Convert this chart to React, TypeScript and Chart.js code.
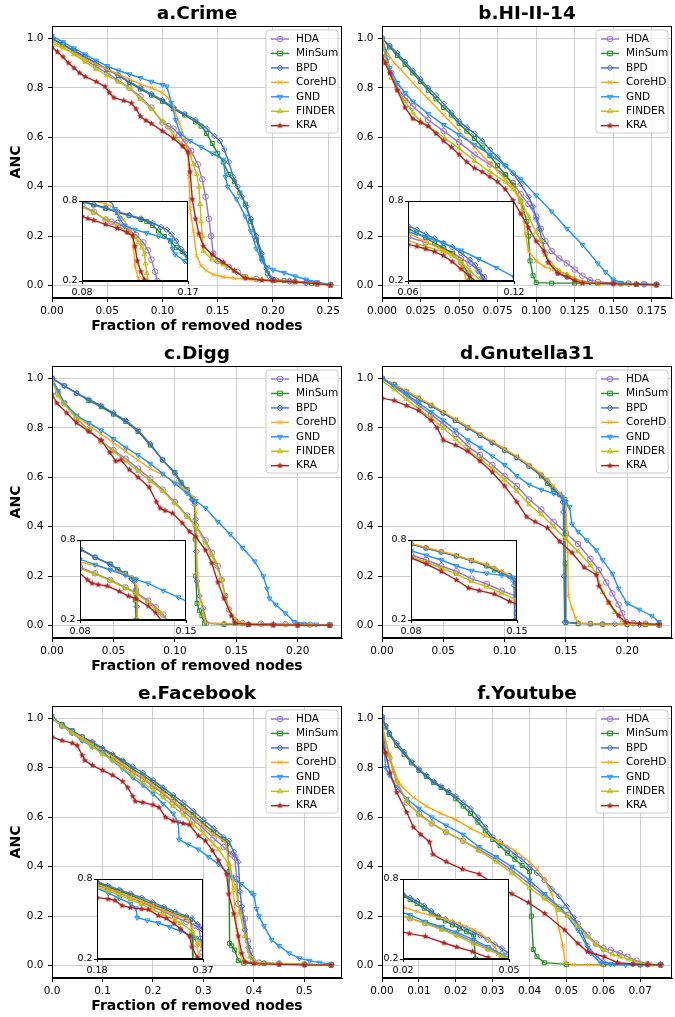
import React, { useEffect, useRef } from 'react';
import { Chart, registerables } from 'chart.js';
Chart.register(...registerables);

type Pt = [number, number];

const METHODS = ['HDA', 'MinSum', 'BPD', 'CoreHD', 'GND', 'FINDER', 'KRA'];

// ---------- a.Crime ----------
const crimeHDA: Pt[] = [[0,1.0],[0.01,0.975],[0.02,0.945],[0.03,0.915],[0.04,0.885],[0.05,0.86],[0.06,0.83],[0.07,0.8],[0.08,0.765],[0.09,0.72],[0.1,0.66],[0.105,0.645],[0.11,0.635],[0.115,0.61],[0.12,0.58],[0.126,0.545],[0.132,0.49],[0.136,0.43],[0.139,0.36],[0.142,0.27],[0.144,0.2],[0.146,0.13],[0.15,0.1],[0.16,0.075],[0.168,0.055],[0.175,0.035],[0.185,0.027],[0.2,0.022],[0.215,0.018],[0.23,0.012],[0.24,0.008],[0.252,0.003]];
const crimeMinSum: Pt[] = [[0,1.0],[0.01,0.975],[0.02,0.95],[0.03,0.925],[0.04,0.9],[0.05,0.875],[0.06,0.85],[0.07,0.822],[0.08,0.795],[0.09,0.77],[0.1,0.745],[0.11,0.715],[0.12,0.69],[0.13,0.662],[0.135,0.645],[0.14,0.615],[0.145,0.575],[0.15,0.535],[0.155,0.5],[0.16,0.45],[0.165,0.42],[0.17,0.375],[0.175,0.33],[0.18,0.26],[0.185,0.185],[0.19,0.11],[0.195,0.05],[0.2,0.025],[0.21,0.02],[0.22,0.016],[0.235,0.01],[0.252,0.003]];
const crimeBPD: Pt[] = [[0,1.0],[0.01,0.975],[0.02,0.95],[0.03,0.925],[0.04,0.9],[0.05,0.875],[0.06,0.85],[0.07,0.825],[0.08,0.8],[0.09,0.775],[0.1,0.75],[0.11,0.72],[0.12,0.695],[0.13,0.67],[0.14,0.635],[0.147,0.605],[0.152,0.585],[0.156,0.55],[0.16,0.5],[0.164,0.44],[0.168,0.4],[0.172,0.36],[0.176,0.32],[0.18,0.27],[0.185,0.2],[0.19,0.13],[0.194,0.07],[0.197,0.035],[0.203,0.022],[0.215,0.017],[0.23,0.012],[0.252,0.003]];
const crimeCoreHD: Pt[] = [[0,0.98],[0.01,0.96],[0.02,0.94],[0.03,0.915],[0.04,0.895],[0.05,0.875],[0.06,0.855],[0.07,0.835],[0.08,0.815],[0.09,0.8],[0.1,0.78],[0.105,0.76],[0.11,0.72],[0.115,0.66],[0.12,0.6],[0.123,0.54],[0.124,0.44],[0.125,0.31],[0.128,0.22],[0.131,0.12],[0.135,0.08],[0.14,0.06],[0.146,0.045],[0.155,0.035],[0.165,0.03],[0.18,0.025],[0.2,0.02],[0.22,0.015],[0.24,0.008],[0.252,0.003]];
const crimeGND: Pt[] = [[0,1.01],[0.01,0.985],[0.02,0.96],[0.03,0.935],[0.04,0.91],[0.05,0.888],[0.06,0.87],[0.07,0.855],[0.08,0.84],[0.09,0.825],[0.1,0.812],[0.104,0.806],[0.108,0.74],[0.112,0.67],[0.116,0.615],[0.125,0.585],[0.135,0.56],[0.145,0.535],[0.155,0.51],[0.157,0.44],[0.159,0.4],[0.167,0.35],[0.175,0.28],[0.18,0.22],[0.185,0.15],[0.19,0.1],[0.195,0.075],[0.2,0.065],[0.21,0.052],[0.22,0.038],[0.23,0.025],[0.24,0.014],[0.252,0.005]];
const crimeFINDER: Pt[] = [[0,0.99],[0.01,0.965],[0.02,0.935],[0.03,0.905],[0.04,0.875],[0.05,0.85],[0.06,0.825],[0.07,0.8],[0.08,0.755],[0.09,0.715],[0.1,0.665],[0.11,0.61],[0.12,0.56],[0.125,0.53],[0.128,0.49],[0.131,0.45],[0.133,0.4],[0.134,0.33],[0.135,0.26],[0.136,0.2],[0.137,0.14],[0.145,0.105],[0.155,0.085],[0.165,0.06],[0.175,0.035],[0.19,0.025],[0.205,0.02],[0.22,0.015],[0.24,0.008],[0.252,0.003]];
const crimeKRA: Pt[] = [[0,0.965],[0.005,0.945],[0.01,0.925],[0.015,0.9],[0.02,0.88],[0.025,0.86],[0.03,0.845],[0.04,0.825],[0.048,0.805],[0.052,0.78],[0.056,0.76],[0.065,0.748],[0.072,0.738],[0.076,0.715],[0.08,0.685],[0.085,0.668],[0.09,0.655],[0.1,0.625],[0.11,0.595],[0.118,0.565],[0.123,0.54],[0.125,0.46],[0.127,0.35],[0.13,0.27],[0.133,0.21],[0.137,0.16],[0.145,0.125],[0.155,0.095],[0.165,0.06],[0.175,0.03],[0.19,0.022],[0.2,0.02],[0.22,0.015],[0.24,0.008],[0.252,0.002]];

// ---------- b.HI-II-14 ----------
const hiHDA: Pt[] = [[0,1.0],[0.003,0.92],[0.006,0.86],[0.01,0.8],[0.015,0.76],[0.02,0.725],[0.03,0.67],[0.04,0.625],[0.05,0.58],[0.06,0.53],[0.07,0.49],[0.08,0.445],[0.085,0.415],[0.09,0.37],[0.095,0.33],[0.1,0.28],[0.103,0.23],[0.106,0.18],[0.11,0.14],[0.115,0.11],[0.12,0.09],[0.125,0.065],[0.13,0.04],[0.135,0.022],[0.14,0.015],[0.15,0.011],[0.16,0.009],[0.17,0.006],[0.178,0.004]];
const hiMinSum: Pt[] = [[0,1.0],[0.005,0.965],[0.01,0.93],[0.015,0.895],[0.02,0.86],[0.025,0.825],[0.03,0.79],[0.035,0.755],[0.04,0.72],[0.045,0.69],[0.05,0.655],[0.055,0.625],[0.06,0.595],[0.065,0.56],[0.07,0.525],[0.075,0.485],[0.08,0.45],[0.085,0.405],[0.09,0.34],[0.094,0.26],[0.095,0.2],[0.096,0.1],[0.098,0.04],[0.1,0.012],[0.11,0.01],[0.125,0.01],[0.14,0.009],[0.155,0.007],[0.165,0.006],[0.178,0.004]];
const hiBPD: Pt[] = [[0,1.0],[0.005,0.97],[0.01,0.94],[0.015,0.905],[0.02,0.87],[0.025,0.835],[0.03,0.8],[0.035,0.77],[0.04,0.735],[0.045,0.7],[0.05,0.665],[0.055,0.64],[0.06,0.615],[0.065,0.585],[0.07,0.55],[0.075,0.52],[0.08,0.485],[0.085,0.455],[0.09,0.41],[0.095,0.36],[0.098,0.32],[0.1,0.27],[0.102,0.23],[0.104,0.18],[0.106,0.13],[0.108,0.095],[0.114,0.05],[0.12,0.035],[0.125,0.025],[0.135,0.013],[0.15,0.01],[0.165,0.007],[0.178,0.004]];
const hiCoreHD: Pt[] = [[0,1.0],[0.003,0.945],[0.008,0.9],[0.012,0.875],[0.02,0.82],[0.03,0.755],[0.04,0.69],[0.05,0.625],[0.06,0.56],[0.07,0.495],[0.08,0.43],[0.085,0.4],[0.089,0.36],[0.091,0.3],[0.093,0.21],[0.095,0.14],[0.1,0.1],[0.105,0.078],[0.11,0.065],[0.115,0.057],[0.12,0.045],[0.125,0.03],[0.13,0.015],[0.14,0.01],[0.155,0.008],[0.165,0.006],[0.178,0.004]];
const hiGND: Pt[] = [[0,1.0],[0.002,0.95],[0.005,0.88],[0.01,0.82],[0.015,0.78],[0.02,0.745],[0.03,0.695],[0.04,0.65],[0.05,0.61],[0.06,0.57],[0.07,0.53],[0.08,0.485],[0.09,0.43],[0.1,0.365],[0.11,0.3],[0.12,0.23],[0.13,0.165],[0.14,0.09],[0.145,0.055],[0.15,0.025],[0.155,0.012],[0.16,0.008],[0.17,0.005],[0.178,0.003]];
const hiFINDER: Pt[] = [[0,1.0],[0.003,0.9],[0.006,0.84],[0.01,0.79],[0.015,0.745],[0.02,0.7],[0.025,0.665],[0.03,0.645],[0.04,0.6],[0.05,0.555],[0.06,0.505],[0.07,0.46],[0.08,0.42],[0.085,0.39],[0.09,0.345],[0.095,0.28],[0.1,0.215],[0.103,0.185],[0.106,0.125],[0.11,0.085],[0.115,0.06],[0.12,0.045],[0.125,0.025],[0.13,0.012],[0.14,0.008],[0.16,0.006],[0.178,0.003]];
const hiKRA: Pt[] = [[0,0.93],[0.002,0.9],[0.005,0.86],[0.01,0.79],[0.015,0.72],[0.02,0.675],[0.025,0.66],[0.03,0.645],[0.035,0.615],[0.04,0.585],[0.045,0.56],[0.05,0.53],[0.055,0.5],[0.06,0.475],[0.065,0.46],[0.07,0.44],[0.075,0.42],[0.08,0.39],[0.085,0.345],[0.09,0.29],[0.095,0.235],[0.1,0.18],[0.105,0.14],[0.108,0.095],[0.114,0.05],[0.12,0.035],[0.125,0.02],[0.13,0.01],[0.15,0.007],[0.165,0.005],[0.178,0.003]];

// ---------- c.Digg ----------
const diggHDA: Pt[] = [[0,1.0],[0.005,0.94],[0.01,0.9],[0.02,0.84],[0.03,0.79],[0.04,0.745],[0.05,0.71],[0.06,0.675],[0.07,0.635],[0.08,0.595],[0.09,0.55],[0.1,0.5],[0.11,0.445],[0.117,0.405],[0.125,0.345],[0.13,0.295],[0.135,0.24],[0.138,0.185],[0.141,0.12],[0.144,0.065],[0.149,0.02],[0.155,0.01],[0.17,0.008],[0.19,0.006],[0.21,0.004],[0.226,0.003]];
const diggMinSum: Pt[] = [[0,1.0],[0.01,0.97],[0.02,0.94],[0.03,0.91],[0.04,0.885],[0.05,0.855],[0.06,0.825],[0.07,0.785],[0.08,0.73],[0.09,0.67],[0.1,0.62],[0.105,0.58],[0.11,0.55],[0.114,0.515],[0.116,0.5],[0.1165,0.35],[0.117,0.2],[0.118,0.09],[0.12,0.06],[0.122,0.04],[0.124,0.01],[0.14,0.005],[0.16,0.004],[0.18,0.003],[0.2,0.002],[0.226,0.001]];
const diggBPD: Pt[] = [[0,1.0],[0.01,0.97],[0.02,0.94],[0.03,0.915],[0.04,0.89],[0.05,0.86],[0.06,0.83],[0.07,0.79],[0.08,0.735],[0.09,0.67],[0.1,0.615],[0.105,0.575],[0.11,0.545],[0.114,0.51],[0.116,0.49],[0.117,0.43],[0.1175,0.3],[0.118,0.18],[0.12,0.12],[0.123,0.07],[0.126,0.01],[0.14,0.008],[0.16,0.006],[0.18,0.005],[0.2,0.003],[0.226,0.002]];
const diggCoreHD: Pt[] = [[0,1.0],[0.005,0.95],[0.01,0.9],[0.02,0.85],[0.03,0.81],[0.04,0.775],[0.05,0.74],[0.06,0.705],[0.07,0.67],[0.08,0.635],[0.09,0.61],[0.1,0.58],[0.11,0.545],[0.116,0.515],[0.117,0.46],[0.1175,0.35],[0.118,0.21],[0.121,0.1],[0.1235,0.04],[0.125,0.01],[0.14,0.008],[0.16,0.006],[0.18,0.004],[0.2,0.003],[0.226,0.002]];
const diggGND: Pt[] = [[0,1.0],[0.005,0.95],[0.01,0.9],[0.02,0.85],[0.03,0.82],[0.04,0.79],[0.05,0.755],[0.06,0.72],[0.07,0.69],[0.08,0.655],[0.09,0.615],[0.1,0.575],[0.11,0.535],[0.117,0.505],[0.125,0.475],[0.135,0.42],[0.145,0.37],[0.155,0.315],[0.165,0.26],[0.172,0.2],[0.175,0.15],[0.177,0.11],[0.182,0.085],[0.19,0.05],[0.197,0.015],[0.205,0.008],[0.215,0.005],[0.226,0.004]];
const diggFINDER: Pt[] = [[0,0.99],[0.005,0.93],[0.01,0.895],[0.02,0.84],[0.03,0.79],[0.04,0.745],[0.05,0.705],[0.06,0.665],[0.07,0.625],[0.08,0.585],[0.09,0.545],[0.1,0.495],[0.11,0.44],[0.117,0.4],[0.125,0.335],[0.13,0.285],[0.133,0.253],[0.138,0.186],[0.141,0.118],[0.144,0.065],[0.149,0.024],[0.155,0.008],[0.17,0.005],[0.19,0.004],[0.21,0.003],[0.226,0.002]];
const diggKRA: Pt[] = [[0,0.935],[0.004,0.9],[0.012,0.86],[0.02,0.82],[0.03,0.785],[0.04,0.75],[0.047,0.7],[0.052,0.665],[0.056,0.67],[0.063,0.63],[0.07,0.6],[0.079,0.56],[0.085,0.5],[0.088,0.475],[0.092,0.465],[0.098,0.455],[0.106,0.415],[0.112,0.38],[0.117,0.36],[0.125,0.305],[0.13,0.253],[0.135,0.175],[0.14,0.11],[0.146,0.04],[0.149,0.01],[0.16,0.005],[0.18,0.003],[0.2,0.002],[0.226,0.001]];

// ---------- d.Gnutella31 ----------
const gnuHDA: Pt[] = [[0,1.0],[0.01,0.965],[0.02,0.93],[0.03,0.89],[0.04,0.855],[0.05,0.815],[0.06,0.775],[0.07,0.725],[0.08,0.69],[0.09,0.65],[0.1,0.605],[0.11,0.565],[0.12,0.51],[0.13,0.47],[0.14,0.42],[0.15,0.375],[0.16,0.33],[0.17,0.27],[0.177,0.225],[0.183,0.175],[0.188,0.13],[0.193,0.085],[0.196,0.05],[0.199,0.015],[0.205,0.01],[0.215,0.008],[0.226,0.005]];
const gnuMinSum: Pt[] = [[0,1.0],[0.01,0.975],[0.02,0.945],[0.03,0.92],[0.04,0.89],[0.05,0.86],[0.06,0.83],[0.07,0.8],[0.08,0.77],[0.09,0.74],[0.1,0.71],[0.11,0.68],[0.12,0.645],[0.13,0.605],[0.135,0.575],[0.14,0.55],[0.145,0.53],[0.149,0.51],[0.1495,0.25],[0.15,0.012],[0.16,0.008],[0.17,0.007],[0.18,0.006],[0.2,0.005],[0.215,0.004],[0.226,0.003]];
const gnuBPD: Pt[] = [[0,1.0],[0.01,0.975],[0.02,0.945],[0.03,0.915],[0.04,0.89],[0.05,0.86],[0.06,0.83],[0.07,0.8],[0.08,0.77],[0.09,0.74],[0.1,0.71],[0.11,0.68],[0.12,0.645],[0.13,0.61],[0.135,0.585],[0.14,0.555],[0.145,0.53],[0.1475,0.5],[0.148,0.46],[0.1485,0.2],[0.149,0.015],[0.16,0.01],[0.17,0.008],[0.18,0.006],[0.19,0.006],[0.2,0.005],[0.21,0.004],[0.226,0.003]];
const gnuCoreHD: Pt[] = [[0,1.0],[0.01,0.975],[0.02,0.95],[0.03,0.92],[0.04,0.895],[0.05,0.865],[0.06,0.835],[0.07,0.805],[0.08,0.775],[0.09,0.745],[0.1,0.715],[0.11,0.685],[0.12,0.65],[0.13,0.615],[0.135,0.59],[0.14,0.565],[0.145,0.535],[0.15,0.51],[0.1515,0.3],[0.152,0.12],[0.155,0.07],[0.158,0.03],[0.16,0.01],[0.17,0.008],[0.18,0.006],[0.2,0.005],[0.226,0.003]];
const gnuGND: Pt[] = [[0,1.0],[0.01,0.97],[0.02,0.935],[0.03,0.9],[0.04,0.865],[0.05,0.83],[0.06,0.79],[0.07,0.75],[0.08,0.72],[0.09,0.685],[0.1,0.65],[0.11,0.605],[0.12,0.57],[0.13,0.55],[0.14,0.535],[0.147,0.52],[0.15,0.5],[0.153,0.48],[0.155,0.41],[0.16,0.38],[0.167,0.345],[0.175,0.305],[0.18,0.265],[0.188,0.21],[0.193,0.15],[0.2,0.09],[0.21,0.065],[0.22,0.04],[0.226,0.015]];
const gnuFINDER: Pt[] = [[0,0.99],[0.01,0.955],[0.02,0.915],[0.03,0.875],[0.04,0.84],[0.05,0.8],[0.06,0.755],[0.07,0.71],[0.08,0.675],[0.09,0.635],[0.1,0.59],[0.11,0.545],[0.12,0.49],[0.13,0.45],[0.14,0.4],[0.15,0.35],[0.16,0.3],[0.17,0.245],[0.175,0.21],[0.18,0.135],[0.185,0.09],[0.19,0.055],[0.196,0.017],[0.205,0.01],[0.215,0.006],[0.226,0.004]];
const gnuKRA: Pt[] = [[0,0.92],[0.01,0.91],[0.02,0.89],[0.03,0.87],[0.04,0.83],[0.045,0.8],[0.05,0.75],[0.06,0.73],[0.07,0.705],[0.08,0.665],[0.09,0.62],[0.1,0.565],[0.11,0.5],[0.118,0.44],[0.125,0.42],[0.135,0.395],[0.145,0.34],[0.155,0.295],[0.165,0.235],[0.175,0.205],[0.177,0.16],[0.185,0.095],[0.193,0.04],[0.199,0.013],[0.21,0.008],[0.226,0.005]];

// ---------- e.Facebook ----------
const fbHDA: Pt[] = [[0,1.0],[0.02,0.97],[0.04,0.945],[0.06,0.915],[0.08,0.89],[0.1,0.86],[0.12,0.835],[0.14,0.81],[0.16,0.78],[0.18,0.755],[0.2,0.725],[0.22,0.695],[0.24,0.66],[0.26,0.625],[0.28,0.59],[0.3,0.555],[0.32,0.515],[0.34,0.48],[0.356,0.45],[0.362,0.44],[0.366,0.35],[0.369,0.25],[0.375,0.22],[0.382,0.19],[0.388,0.1],[0.392,0.06],[0.398,0.02],[0.41,0.012],[0.45,0.008],[0.5,0.005],[0.553,0.003]];
const fbMinSum: Pt[] = [[0,1.0],[0.02,0.975],[0.04,0.95],[0.06,0.925],[0.08,0.9],[0.1,0.875],[0.12,0.85],[0.14,0.825],[0.16,0.795],[0.18,0.77],[0.2,0.74],[0.22,0.71],[0.24,0.68],[0.26,0.645],[0.28,0.61],[0.3,0.575],[0.32,0.54],[0.34,0.51],[0.348,0.495],[0.3505,0.38],[0.352,0.09],[0.356,0.08],[0.362,0.063],[0.369,0.02],[0.38,0.01],[0.42,0.008],[0.5,0.005],[0.553,0.003]];
const fbBPD: Pt[] = [[0,1.0],[0.02,0.975],[0.04,0.95],[0.06,0.925],[0.08,0.905],[0.1,0.88],[0.12,0.855],[0.14,0.83],[0.16,0.805],[0.18,0.78],[0.2,0.75],[0.22,0.72],[0.24,0.69],[0.26,0.66],[0.28,0.625],[0.3,0.59],[0.32,0.555],[0.34,0.52],[0.35,0.505],[0.36,0.46],[0.369,0.42],[0.3725,0.3],[0.376,0.24],[0.382,0.145],[0.389,0.075],[0.395,0.035],[0.4,0.012],[0.42,0.01],[0.45,0.008],[0.5,0.005],[0.553,0.003]];
const fbCoreHD: Pt[] = [[0,1.0],[0.02,0.97],[0.04,0.945],[0.06,0.92],[0.08,0.895],[0.1,0.87],[0.12,0.845],[0.14,0.815],[0.16,0.785],[0.18,0.76],[0.2,0.73],[0.22,0.7],[0.24,0.665],[0.26,0.635],[0.28,0.6],[0.3,0.565],[0.32,0.53],[0.343,0.5],[0.353,0.4],[0.359,0.305],[0.366,0.145],[0.372,0.05],[0.379,0.016],[0.4,0.01],[0.45,0.008],[0.5,0.005],[0.553,0.003]];
const fbGND: Pt[] = [[0,1.01],[0.02,0.97],[0.04,0.94],[0.06,0.91],[0.08,0.885],[0.1,0.865],[0.12,0.83],[0.14,0.795],[0.16,0.76],[0.18,0.73],[0.2,0.695],[0.22,0.655],[0.24,0.615],[0.25,0.58],[0.252,0.51],[0.27,0.49],[0.29,0.47],[0.31,0.44],[0.33,0.41],[0.356,0.36],[0.375,0.33],[0.395,0.295],[0.4,0.285],[0.405,0.23],[0.41,0.2],[0.42,0.16],[0.435,0.105],[0.45,0.08],[0.47,0.05],[0.49,0.03],[0.51,0.02],[0.53,0.012],[0.553,0.006]];
const fbFINDER: Pt[] = [[0,1.0],[0.02,0.97],[0.04,0.94],[0.06,0.915],[0.08,0.885],[0.1,0.855],[0.12,0.83],[0.14,0.8],[0.16,0.77],[0.18,0.74],[0.2,0.71],[0.22,0.68],[0.24,0.645],[0.26,0.61],[0.28,0.57],[0.3,0.535],[0.32,0.49],[0.33,0.47],[0.35,0.41],[0.363,0.32],[0.3725,0.21],[0.382,0.12],[0.392,0.036],[0.399,0.016],[0.42,0.01],[0.5,0.005],[0.553,0.003]];
const fbKRA: Pt[] = [[0,0.925],[0.02,0.91],[0.04,0.9],[0.05,0.89],[0.06,0.85],[0.065,0.83],[0.08,0.81],[0.1,0.79],[0.12,0.77],[0.14,0.745],[0.15,0.72],[0.16,0.685],[0.165,0.665],[0.18,0.66],[0.2,0.65],[0.212,0.64],[0.225,0.6],[0.24,0.585],[0.26,0.575],[0.272,0.57],[0.29,0.525],[0.304,0.505],[0.318,0.465],[0.33,0.425],[0.346,0.37],[0.35,0.29],[0.36,0.21],[0.369,0.12],[0.376,0.05],[0.382,0.016],[0.4,0.008],[0.45,0.005],[0.5,0.003],[0.553,0.002]];

// ---------- f.Youtube ----------
const ytHDA: Pt[] = [[0,1.0],[0.001,0.87],[0.002,0.84],[0.004,0.74],[0.0067,0.66],[0.01,0.615],[0.0135,0.575],[0.0174,0.54],[0.022,0.505],[0.0263,0.47],[0.031,0.43],[0.0352,0.385],[0.04,0.33],[0.0441,0.28],[0.048,0.235],[0.0504,0.205],[0.053,0.17],[0.0557,0.125],[0.058,0.09],[0.06,0.07],[0.062,0.063],[0.0645,0.05],[0.0665,0.036],[0.069,0.02],[0.072,0.006],[0.0755,0.003]];
const ytMinSum: Pt[] = [[0,1.0],[0.001,0.965],[0.002,0.935],[0.004,0.89],[0.006,0.855],[0.008,0.82],[0.01,0.79],[0.012,0.765],[0.014,0.74],[0.016,0.72],[0.018,0.7],[0.02,0.675],[0.022,0.645],[0.024,0.615],[0.026,0.58],[0.028,0.545],[0.03,0.51],[0.032,0.485],[0.034,0.455],[0.036,0.43],[0.038,0.405],[0.04,0.38],[0.0405,0.2],[0.041,0.065],[0.042,0.036],[0.044,0.012],[0.05,0.005],[0.06,0.004],[0.07,0.003],[0.0755,0.003]];
const ytBPD: Pt[] = [[0,1.01],[0.001,0.97],[0.002,0.94],[0.004,0.9],[0.006,0.865],[0.008,0.825],[0.01,0.795],[0.012,0.77],[0.014,0.745],[0.016,0.725],[0.018,0.705],[0.02,0.685],[0.022,0.66],[0.024,0.635],[0.026,0.6],[0.028,0.56],[0.03,0.52],[0.032,0.5],[0.034,0.475],[0.036,0.45],[0.038,0.43],[0.04,0.4],[0.042,0.375],[0.044,0.345],[0.046,0.31],[0.048,0.28],[0.05,0.24],[0.052,0.195],[0.054,0.14],[0.0557,0.08],[0.058,0.04],[0.06,0.015],[0.063,0.008],[0.068,0.006],[0.072,0.005],[0.0755,0.004]];
const ytCoreHD: Pt[] = [[0,0.98],[0.001,0.9],[0.003,0.8],[0.005,0.73],[0.0085,0.68],[0.012,0.645],[0.016,0.615],[0.02,0.59],[0.024,0.555],[0.028,0.525],[0.032,0.5],[0.036,0.465],[0.04,0.42],[0.042,0.39],[0.044,0.35],[0.046,0.29],[0.047,0.24],[0.048,0.15],[0.049,0.08],[0.0497,0.01],[0.052,0.004],[0.056,0.003],[0.06,0.003]];
const ytGND: Pt[] = [[0,1.0],[0.001,0.8],[0.002,0.77],[0.004,0.72],[0.0067,0.675],[0.01,0.635],[0.0135,0.6],[0.0174,0.567],[0.022,0.53],[0.0263,0.48],[0.031,0.44],[0.0352,0.4],[0.04,0.345],[0.0441,0.29],[0.0486,0.23],[0.0531,0.144],[0.0566,0.05],[0.0593,0.01],[0.062,0.005],[0.066,0.004],[0.07,0.003],[0.0755,0.003]];
const ytFINDER: Pt[] = [[0,0.97],[0.002,0.85],[0.004,0.745],[0.0067,0.665],[0.01,0.61],[0.0135,0.575],[0.0174,0.54],[0.022,0.505],[0.0263,0.465],[0.031,0.42],[0.0352,0.375],[0.04,0.315],[0.0441,0.27],[0.048,0.225],[0.0504,0.2],[0.053,0.16],[0.0557,0.117],[0.058,0.085],[0.0602,0.063],[0.0625,0.045],[0.0646,0.036],[0.067,0.025],[0.07,0.01],[0.073,0.004],[0.0755,0.003]];
const ytKRA: Pt[] = [[0,0.9],[0.0009,0.86],[0.0022,0.78],[0.004,0.7],[0.0067,0.62],[0.0085,0.56],[0.0105,0.53],[0.0129,0.5],[0.0138,0.45],[0.0174,0.42],[0.0218,0.39],[0.0263,0.37],[0.0316,0.32],[0.0352,0.29],[0.0397,0.255],[0.0441,0.211],[0.0495,0.144],[0.0531,0.09],[0.0557,0.056],[0.0602,0.036],[0.0638,0.012],[0.068,0.006],[0.072,0.004],[0.0755,0.003]];

// ---------- axis / tick settings ----------
const TITLES = ['a.Crime', 'b.HI-II-14', 'c.Digg', 'd.Gnutella31', 'e.Facebook', 'f.Youtube'];
const X_MAX = [0.2625, 0.1881, 0.236, 0.2366, 0.5745, 0.0786];
const X_STEP = [0.05, 0.025, 0.05, 0.05, 0.1, 0.01];
const X_DEC = [2, 3, 2, 2, 1, 2];
const INSET_X: Pt[] = [[0.08, 0.17], [0.06, 0.12], [0.08, 0.15], [0.08, 0.15], [0.18, 0.37], [0.02, 0.05]];
const INSET_Y: Pt = [0.2, 0.8];
const Y_TICKS_STEP = 0.2;

const SERIES: Pt[][][] = [
  [crimeHDA, crimeMinSum, crimeBPD, crimeCoreHD, crimeGND, crimeFINDER, crimeKRA],
  [hiHDA, hiMinSum, hiBPD, hiCoreHD, hiGND, hiFINDER, hiKRA],
  [diggHDA, diggMinSum, diggBPD, diggCoreHD, diggGND, diggFINDER, diggKRA],
  [gnuHDA, gnuMinSum, gnuBPD, gnuCoreHD, gnuGND, gnuFINDER, gnuKRA],
  [fbHDA, fbMinSum, fbBPD, fbCoreHD, fbGND, fbFINDER, fbKRA],
  [ytHDA, ytMinSum, ytBPD, ytCoreHD, ytGND, ytFINDER, ytKRA],
];

// ---------- styles & layout ----------
const COLORS = ['#9370DB', '#228B22', '#4169E1', '#FFA500', '#1E90FF', '#BFBF00', '#B22222'];
const MARKERS = ['circle', 'rect', 'rectRot', 'crossRot', 'triangleDown', 'triangle', 'star'];
const FONT = "'DejaVu Sans', sans-serif";

const COL_LEFT = [52, 382];
const ROW_TOP = [26, 366, 706];
const PLOT_W = 293;
const PLOT_H = 272;
const PAD_T = 26;
const PAD_B = 42;
const PAD_R = 2;
const INSET_BOX: Pt[] = [[82, 201], [408, 201], [80, 540], [411, 540], [97, 879], [403, 879]];
const INSET_W = 106;
const INSET_H = 80;
const IN_PAD_L = 22, IN_PAD_T = 9, IN_PAD_R = 14, IN_PAD_B = 18;

Chart.defaults.font.family = FONT;
Chart.defaults.color = '#000';

function makeStar(color: string, R: number): HTMLCanvasElement {
  const c = document.createElement('canvas');
  const s = Math.ceil(R * 2 + 2);
  c.width = s; c.height = s;
  const g = c.getContext('2d')!;
  g.beginPath();
  for (let k = 0; k < 10; k++) {
    const r = k % 2 === 0 ? R : R * 0.45;
    const a = -Math.PI / 2 + (k * Math.PI) / 5;
    const px = s / 2 + r * Math.cos(a), py = s / 2 + r * Math.sin(a);
    if (k === 0) g.moveTo(px, py); else g.lineTo(px, py);
  }
  g.closePath();
  g.fillStyle = color;
  g.fill();
  return c;
}

function drawMarker(ctx: CanvasRenderingContext2D, m: string, x: number, y: number, color: string, star: HTMLCanvasElement) {
  ctx.save();
  ctx.strokeStyle = color;
  ctx.lineWidth = 1;
  ctx.beginPath();
  if (m === 'circle') {
    ctx.arc(x, y, 2.8, 0, Math.PI * 2);
    ctx.stroke();
  } else if (m === 'rect') {
    ctx.rect(x - 2.3, y - 2.3, 4.6, 4.6);
    ctx.stroke();
  } else if (m === 'rectRot') {
    ctx.moveTo(x, y - 3); ctx.lineTo(x + 3, y); ctx.lineTo(x, y + 3); ctx.lineTo(x - 3, y); ctx.closePath();
    ctx.stroke();
  } else if (m === 'crossRot') {
    ctx.moveTo(x - 2.2, y - 2.2); ctx.lineTo(x + 2.2, y + 2.2);
    ctx.moveTo(x + 2.2, y - 2.2); ctx.lineTo(x - 2.2, y + 2.2);
    ctx.stroke();
  } else if (m === 'triangle') {
    ctx.moveTo(x, y - 3); ctx.lineTo(x + 2.6, y + 1.5); ctx.lineTo(x - 2.6, y + 1.5); ctx.closePath();
    ctx.stroke();
  } else if (m === 'triangleDown') {
    ctx.moveTo(x, y + 3); ctx.lineTo(x + 2.6, y - 1.5); ctx.lineTo(x - 2.6, y - 1.5); ctx.closePath();
    ctx.stroke();
  } else if (m === 'star') {
    ctx.drawImage(star, x - star.width / 2, y - star.height / 2);
  }
  ctx.restore();
}

function buildDatasets(series: Pt[][], star: HTMLCanvasElement) {
  return series.map((d, i) => {
    const m = MARKERS[i];
    return {
      label: METHODS[i],
      data: d,
      borderColor: COLORS[i],
      backgroundColor: COLORS[i],
      borderWidth: 1.4,
      pointStyle: m === 'star' ? star : m === 'triangleDown' ? 'triangle' : m,
      pointRotation: m === 'triangleDown' ? 180 : 0,
      pointRadius: 2.8,
      pointBorderWidth: 1,
      pointBorderColor: COLORS[i],
      pointBackgroundColor: 'rgba(0,0,0,0)',
      tension: 0,
      order: 6 - i,
    };
  });
}

const framePlugin = {
  id: 'frame',
  afterDraw(chart: any) {
    const { ctx, chartArea: a } = chart;
    ctx.save();
    ctx.strokeStyle = '#000';
    ctx.lineWidth = 1;
    ctx.strokeRect(Math.round(a.left) + 0.5, Math.round(a.top) + 0.5, Math.round(a.right - a.left) - 1, Math.round(a.bottom - a.top) - 1);
    ctx.restore();
  },
};

const whiteBgPlugin = {
  id: 'whitebg',
  beforeDraw(chart: any) {
    const { ctx, chartArea: a } = chart;
    ctx.save();
    ctx.fillStyle = '#fff';
    ctx.fillRect(a.left, a.top, a.right - a.left, a.bottom - a.top);
    ctx.restore();
  },
};

function makeLegendPlugin(star: HTMLCanvasElement) {
  return {
    id: 'mplLegend',
    afterDraw(chart: any) {
      const { ctx, chartArea: a } = chart;
      const w = 72, h = 103;
      const x0 = a.right - 4 - w, y0 = a.top + 4;
      ctx.save();
      ctx.beginPath();
      const r = 3;
      ctx.moveTo(x0 + r, y0);
      ctx.arcTo(x0 + w, y0, x0 + w, y0 + h, r);
      ctx.arcTo(x0 + w, y0 + h, x0, y0 + h, r);
      ctx.arcTo(x0, y0 + h, x0, y0, r);
      ctx.arcTo(x0, y0, x0 + w, y0, r);
      ctx.closePath();
      ctx.fillStyle = 'rgba(255,255,255,0.8)';
      ctx.fill();
      ctx.strokeStyle = '#cccccc';
      ctx.lineWidth = 1;
      ctx.stroke();
      ctx.font = `10.5px ${FONT}`;
      ctx.textBaseline = 'middle';
      ctx.textAlign = 'left';
      for (let i = 0; i < METHODS.length; i++) {
        const cy = a.top + 13 + i * 14.45;
        ctx.strokeStyle = COLORS[i];
        ctx.lineWidth = 1.4;
        ctx.beginPath();
        ctx.moveTo(x0 + 5, cy);
        ctx.lineTo(x0 + 23, cy);
        ctx.stroke();
        drawMarker(ctx, MARKERS[i], x0 + 14, cy, COLORS[i], star);
        ctx.fillStyle = '#000';
        ctx.fillText(METHODS[i], x0 + 30, cy);
      }
      ctx.restore();
    },
  };
}

function mainConfig(idx: number, star: HTMLCanvasElement): any {
  const col = idx % 2;
  const padL = col === 0 ? COL_LEFT[0] : COL_LEFT[1] - 335;
  const dec = X_DEC[idx];
  const gridOpts = { color: '#c8c8c8', lineWidth: 0.9, tickLength: 4, tickColor: '#000', tickWidth: 1 };
  return {
    type: 'line',
    data: { datasets: buildDatasets(SERIES[idx], star) },
    options: {
      animation: false,
      responsive: false,
      devicePixelRatio: 1,
      events: [],
      layout: { padding: { left: 0, right: PAD_R, top: 0, bottom: 0 } },
      plugins: {
        legend: { display: false },
        tooltip: { enabled: false },
        title: {
          display: true,
          text: TITLES[idx],
          fullSize: false,
          color: '#000',
          font: { size: 18.5, weight: 'bold', family: FONT, lineHeight: 1.2 },
          padding: { top: 2.9, bottom: 0.9 },
        },
      },
      scales: {
        x: {
          type: 'linear',
          min: 0,
          max: X_MAX[idx],
          afterFit: (s: any) => { s.height = PAD_B; },
          ticks: {
            stepSize: X_STEP[idx],
            includeBounds: false,
            autoSkip: false,
            maxRotation: 0,
            padding: 3,
            color: '#000',
            font: { size: 10.5, family: FONT },
            callback: (v: any) => Number(v).toFixed(dec),
          },
          grid: gridOpts,
          border: { display: true, color: '#000', width: 1 },
          title: {
            display: col === 0,
            text: 'Fraction of removed nodes',
            color: '#000',
            font: { size: 14, weight: 'bold', family: FONT, lineHeight: 1.2 },
            padding: { top: 0, bottom: 5.6 },
          },
        },
        y: {
          type: 'linear',
          min: -0.05,
          max: 1.05,
          afterFit: (s: any) => { s.width = padL; },
          ticks: {
            stepSize: Y_TICKS_STEP,
            includeBounds: false,
            padding: 4.5,
            color: '#000',
            font: { size: 10.5, family: FONT },
            callback: (v: any) => Number(v).toFixed(1),
          },
          grid: gridOpts,
          border: { display: true, color: '#000', width: 1 },
          title: {
            display: col === 0,
            text: 'ANC',
            color: '#000',
            font: { size: 14, weight: 'bold', family: FONT, lineHeight: 1.2 },
            padding: { top: 7.6, bottom: 0 },
          },
        },
      },
    },
    plugins: [framePlugin, makeLegendPlugin(star)],
  };
}

function insetConfig(idx: number, star: HTMLCanvasElement): any {
  const [x0, x1] = INSET_X[idx];
  const axisGrid = { display: true, drawOnChartArea: false, drawTicks: true, tickLength: 3, tickColor: '#000', tickWidth: 1 };
  return {
    type: 'line',
    data: { datasets: buildDatasets(SERIES[idx], star) },
    options: {
      animation: false,
      responsive: false,
      devicePixelRatio: 1,
      events: [],
      layout: { padding: { left: 0, right: IN_PAD_R, top: IN_PAD_T, bottom: 0 } },
      plugins: { legend: { display: false }, tooltip: { enabled: false }, title: { display: false } },
      scales: {
        x: {
          type: 'linear',
          min: x0,
          max: x1,
          afterFit: (s: any) => { s.height = IN_PAD_B; },
          afterBuildTicks: (s: any) => { s.ticks = [{ value: x0 }, { value: x1 }]; },
          ticks: {
            autoSkip: false,
            maxRotation: 0,
            padding: 3,
            color: '#000',
            font: { size: 9.5, family: FONT },
            callback: (v: any) => Number(v).toFixed(2),
          },
          grid: axisGrid,
          border: { display: true, color: '#000', width: 1 },
        },
        y: {
          type: 'linear',
          min: INSET_Y[0],
          max: INSET_Y[1],
          afterFit: (s: any) => { s.width = IN_PAD_L; },
          afterBuildTicks: (s: any) => { s.ticks = [{ value: INSET_Y[0] }, { value: INSET_Y[1] }]; },
          ticks: {
            padding: 1.5,
            color: '#000',
            font: { size: 9.5, family: FONT },
            callback: (v: any) => Number(v).toFixed(1),
          },
          grid: axisGrid,
          border: { display: true, color: '#000', width: 1 },
        },
      },
    },
    plugins: [whiteBgPlugin, framePlugin],
  };
}

export default function App() {
  const refs = useRef<(HTMLCanvasElement | null)[]>([]);

  useEffect(() => {
    const star = makeStar('#B22222', 3.5);
    const charts: Chart[] = [];
    for (let i = 0; i < 6; i++) {
      const m = refs.current[2 * i];
      const n = refs.current[2 * i + 1];
      if (m) charts.push(new Chart(m, mainConfig(i, star)));
      if (n) charts.push(new Chart(n, insetConfig(i, star)));
    }
    return () => charts.forEach((c) => c.destroy());
  }, []);

  const items: React.ReactNode[] = [];
  for (let i = 0; i < 6; i++) {
    const col = i % 2, row = Math.floor(i / 2);
    const left = col === 0 ? 0 : 335;
    const padL = COL_LEFT[col] - left;
    const w = padL + PLOT_W + PAD_R;
    const h = PAD_T + PLOT_H + PAD_B;
    const top = ROW_TOP[row] - PAD_T;
    items.push(
      <canvas key={`m${i}`} ref={(el) => { refs.current[2 * i] = el; }} width={w} height={h}
        style={{ position: 'absolute', left, top, width: w, height: h }} />
    );
    const [bx, by] = INSET_BOX[i];
    const iw = IN_PAD_L + INSET_W + IN_PAD_R;
    const ih = IN_PAD_T + INSET_H + IN_PAD_B;
    items.push(
      <canvas key={`i${i}`} ref={(el) => { refs.current[2 * i + 1] = el; }} width={iw} height={ih}
        style={{ position: 'absolute', left: bx - IN_PAD_L, top: by - IN_PAD_T, width: iw, height: ih }} />
    );
  }

  return (
    <div style={{ position: 'absolute', left: 0, top: 0, width: 675, height: 1017, overflow: 'hidden', background: '#fff' }}>
      {items}
    </div>
  );
}
